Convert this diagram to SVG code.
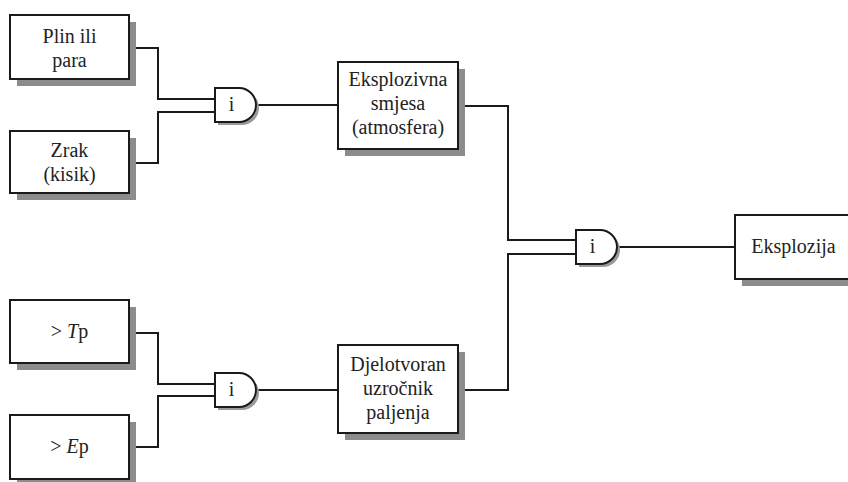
<svg xmlns="http://www.w3.org/2000/svg" width="848" height="482" viewBox="0 0 848 482">
<defs>
<style>
.box{fill:#fff;stroke:#1a1a1a;stroke-width:2}
.sh{fill:#8c8c8c}
.gate{fill:#fff;stroke:#1a1a1a;stroke-width:2}
.gsh{fill:#9a9a9a}
.t{font-family:"Liberation Serif","Times New Roman",serif;font-size:20px;fill:#222;text-anchor:middle}
.c{fill:none;stroke:#1a1a1a;stroke-width:2}
</style>
<path id="g" d="M0,0 h24 a17,17 0 0 1 0,34 h-24 z"/>
</defs>
<rect width="848" height="482" fill="#fff"/>
<g id="connectors">
<polyline class="c" points="129,48 158,48 158,99 215,99"/>
<polyline class="c" points="129,163 158,163 158,112 215,112"/>
<polyline class="c" points="256,105 338,105"/>
<polyline class="c" points="458,106 508,106 508,240 576,240"/>
<polyline class="c" points="458,390 508,390 508,254 576,254"/>
<polyline class="c" points="617,247 735,247"/>
<polyline class="c" points="129,333 158,333 158,384 215,384"/>
<polyline class="c" points="129,447 158,447 158,396 215,396"/>
<polyline class="c" points="256,390 338,390"/>
</g>
<g id="n1">
<rect class="sh" x="17" y="22" width="119" height="64"/>
<rect class="box" x="10" y="15" width="119" height="64"/>
<text class="t" x="69.5" y="43">Plin ili</text>
<text class="t" x="69.5" y="67">para</text>
</g>
<g id="n2">
<rect class="sh" x="17" y="138" width="119" height="62"/>
<rect class="box" x="10" y="131" width="119" height="62"/>
<text class="t" x="69.5" y="157">Zrak</text>
<text class="t" x="69.5" y="181">(kisik)</text>
</g>
<g id="g1">
<use href="#g" x="218" y="91" class="gsh"/>
<use href="#g" x="215" y="88" class="gate"/>
<text class="t" x="231.5" y="111">i</text>
</g>
<g id="n3">
<rect class="sh" x="345" y="69" width="120" height="87"/>
<rect class="box" x="338" y="62" width="120" height="87"/>
<text class="t" x="398" y="86">Eksplozivna</text>
<text class="t" x="398" y="110">smjesa</text>
<text class="t" x="398" y="134">(atmosfera)</text>
</g>
<g id="n4">
<rect class="sh" x="17" y="307" width="119" height="63"/>
<rect class="box" x="10" y="300" width="119" height="63"/>
<text class="t" x="69.5" y="338">&gt; <tspan font-style="italic">T</tspan>p</text>
</g>
<g id="n5">
<rect class="sh" x="17" y="422" width="119" height="64"/>
<rect class="box" x="10" y="415" width="119" height="64"/>
<text class="t" x="69.5" y="453">&gt; <tspan font-style="italic">E</tspan>p</text>
</g>
<g id="g2">
<use href="#g" x="218" y="376" class="gsh"/>
<use href="#g" x="215" y="373" class="gate"/>
<text class="t" x="231.5" y="396">i</text>
</g>
<g id="n6">
<rect class="sh" x="345" y="352" width="120" height="88"/>
<rect class="box" x="338" y="345" width="120" height="88"/>
<text class="t" x="398" y="371">Djelotvoran</text>
<text class="t" x="398" y="395">uzročnik</text>
<text class="t" x="398" y="419">paljenja</text>
</g>
<g id="g3">
<use href="#g" x="579" y="233" class="gsh"/>
<use href="#g" x="576" y="230" class="gate"/>
<text class="t" x="592.5" y="253">i</text>
</g>
<g id="n7">
<rect class="sh" x="742" y="222" width="119" height="64"/>
<rect class="box" x="735" y="215" width="119" height="64"/>
<text class="t" x="793.5" y="253">Eksplozija</text>
</g>
</svg>
